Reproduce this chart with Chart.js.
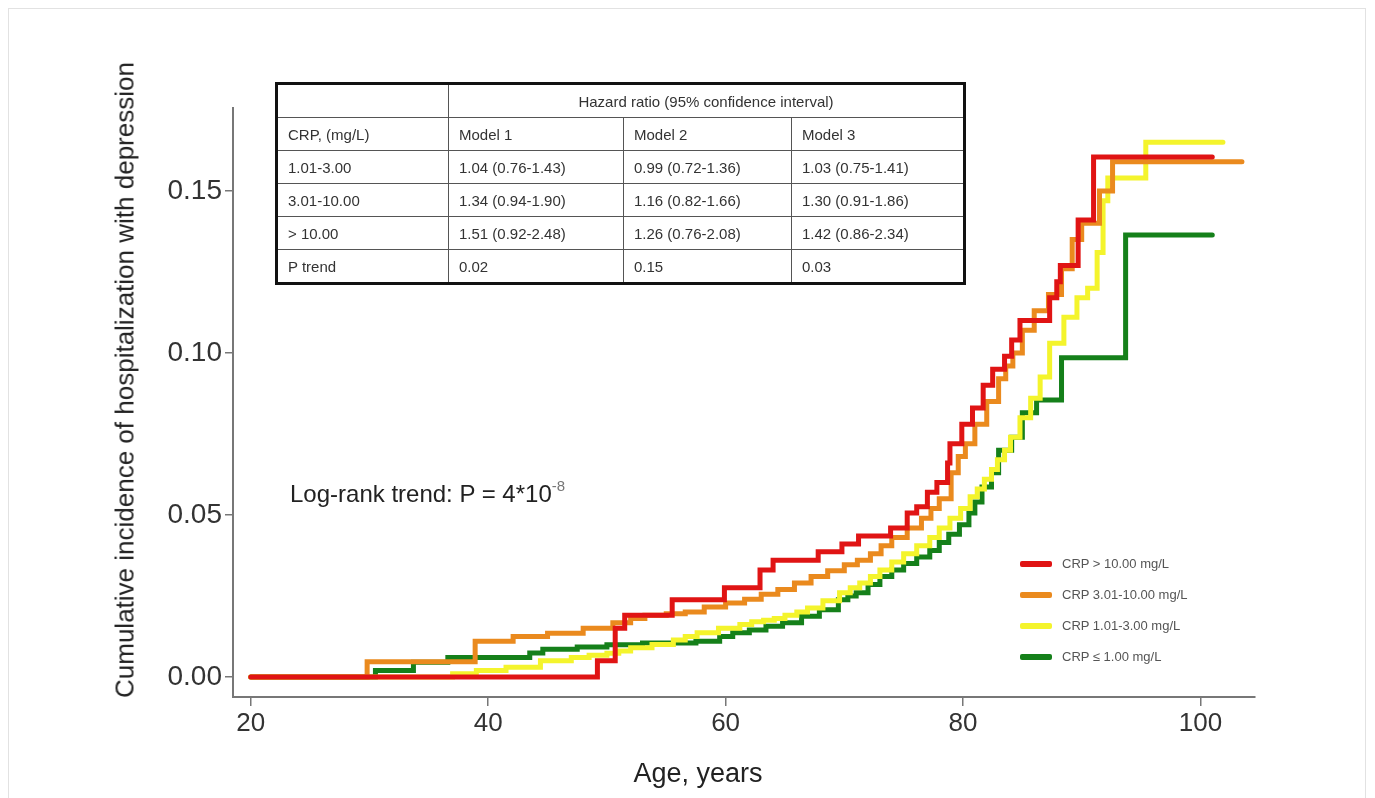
<!DOCTYPE html>
<html>
<head>
<meta charset="utf-8">
<script src="https://cdn.jsdelivr.net/npm/chart.js@4/dist/chart.umd.min.js"></script>
<style>
  body { margin: 0; background: #fff; font-family: "Liberation Sans", Arial, sans-serif; }
  #wrap { position: relative; width: 1375px; height: 798px; overflow: hidden; }
  #frame { position: absolute; left: 8px; top: 8px; width: 1358px; height: 820px; border: 1px solid #e2e2e2; box-sizing: border-box; }
  #chartBox { position: absolute; left: 0; top: 0; width: 1375px; height: 798px; }
  #hrTable { position: absolute; left: 275px; top: 82px; width: 688px; height: 201px; border-collapse: collapse; border: 3px solid #111; font-size: 15px; color: #333; table-layout: fixed; }
  #hrTable td { border: 1px solid #555; padding: 0 0 0 10px; height: 32px; white-space: nowrap; }
  #hrTable td.head { text-align: center; padding: 0; }
  #logrank { position: absolute; left: 290px; top: 479px; font-size: 24px; color: #222; }
  #logrank sup { font-size: 15px; color: #777; position: relative; top: -2px; }
  #legend { position: absolute; left: 1020px; top: 548px; font-size: 13px; color: #555; }
  .lg-row { height: 31px; display: flex; align-items: center; }
  .lg-swatch { width: 32px; height: 6px; margin-right: 10px; border-radius: 2px; }
  .axis-title { position: absolute; white-space: nowrap; color: #222; transform-origin: center; }
  #yTitle { left: 125px; top: 380px; font-size: 26px; transform: translate(-50%, -50%) rotate(-90deg); }
  #xTitle { left: 698px; top: 773px; font-size: 27px; transform: translate(-50%, -50%); }
</style>
</head>
<body>
<div id="wrap">
  <div id="frame"></div>
  <div id="chartBox"><canvas id="kmChart"></canvas></div>
  <table id="hrTable"></table>
  <div id="logrank">Log-rank trend: P = 4*10<sup>-8</sup></div>
  <div id="legend"></div>
  <div id="yTitle" class="axis-title">Cumulative incidence of hospitalization with depression</div>
  <div id="xTitle" class="axis-title">Age, years</div>
</div>
<script>
// series labels + colours (legend order = drawing priority, first on top)
const seriesLabels = ['CRP > 10.00 mg/L', 'CRP 3.01-10.00 mg/L', 'CRP 1.01-3.00 mg/L', 'CRP \u2264 1.00 mg/L'];
const seriesColors = ['#e01414', '#ea8a1e', '#f4f42c', '#15801a'];

// Kaplan-Meier style step points: age at event, cumulative incidence after it
const redAges = [20, 49.2, 50.7, 51.5, 55.5, 59.9, 62.9, 64.0, 67.8, 69.8, 71.2, 73.9, 75.3, 76.1, 77.0, 77.8, 78.7, 78.9, 79.9, 80.8, 81.7, 82.5, 83.5, 84.1, 84.8, 87.3, 87.9, 88.2, 89.7, 91.0, 101.0];
const redRisk = [0, 0.005, 0.015, 0.019, 0.0238, 0.0275, 0.033, 0.036, 0.0386, 0.041, 0.0435, 0.046, 0.0506, 0.0525, 0.057, 0.060, 0.066, 0.072, 0.078, 0.083, 0.090, 0.095, 0.099, 0.104, 0.110, 0.117, 0.122, 0.127, 0.141, 0.1605, 0.1605];

const orangeAges = [20, 29.8, 38.9, 42.1, 45.0, 48.0, 50.5, 52.0, 53.2, 55.0, 56.6, 58.2, 60.0, 61.6, 63.0, 64.4, 65.8, 67.2, 68.6, 70.0, 71.1, 72.2, 73.1, 74.0, 75.3, 76.5, 77.3, 78.0, 79.0, 79.6, 80.2, 81.0, 82.0, 83.0, 83.6, 84.2, 85.0, 86.0, 87.2, 88.3, 89.2, 90.0, 91.5, 92.6, 103.5];
const orangeRisk = [0, 0.0047, 0.011, 0.0125, 0.0135, 0.015, 0.0167, 0.018, 0.019, 0.0195, 0.020, 0.0216, 0.0228, 0.024, 0.0255, 0.027, 0.029, 0.031, 0.0328, 0.0346, 0.036, 0.038, 0.0405, 0.043, 0.046, 0.049, 0.052, 0.055, 0.063, 0.068, 0.072, 0.078, 0.085, 0.092, 0.096, 0.100, 0.107, 0.113, 0.118, 0.126, 0.135, 0.140, 0.150, 0.159, 0.159];

const yellowAges = [20, 37.0, 39.0, 41.5, 44.4, 47.0, 48.5, 50.0, 51.0, 52.0, 53.8, 55.6, 56.6, 57.6, 59.4, 61.2, 62.2, 63.2, 64.1, 65.0, 66.0, 66.9, 68.2, 69.6, 70.5, 71.3, 72.2, 73.0, 74.0, 75.0, 76.1, 77.2, 78.0, 78.9, 79.8, 80.6, 81.2, 81.8, 82.4, 82.9, 83.5, 84.0, 84.8, 85.7, 86.5, 87.3, 88.5, 89.6, 90.5, 91.3, 91.8, 92.2, 95.4, 101.9];
const yellowRisk = [0, 0.001, 0.002, 0.003, 0.005, 0.006, 0.0067, 0.0073, 0.008, 0.009, 0.010, 0.0114, 0.0125, 0.0136, 0.015, 0.0162, 0.017, 0.0175, 0.018, 0.019, 0.020, 0.0213, 0.0235, 0.026, 0.0275, 0.029, 0.031, 0.033, 0.0355, 0.038, 0.0405, 0.043, 0.046, 0.049, 0.052, 0.0556, 0.058, 0.061, 0.064, 0.067, 0.070, 0.074, 0.080, 0.086, 0.0926, 0.103, 0.111, 0.117, 0.120, 0.131, 0.147, 0.154, 0.165, 0.165];

const greenAges = [20, 30.5, 33.7, 36.6, 43.5, 44.6, 47.5, 50.0, 53.0, 57.5, 59.5, 60.6, 62.0, 63.4, 64.8, 66.4, 67.9, 69.5, 70.3, 71.0, 72.0, 73.0, 74.0, 75.0, 76.1, 77.2, 78.0, 78.8, 79.7, 80.5, 81.0, 81.6, 82.4, 83.0, 84.1, 85.0, 86.2, 88.3, 93.7, 101.0];
const greenRisk = [0, 0.002, 0.0045, 0.006, 0.0074, 0.0085, 0.0092, 0.0099, 0.0105, 0.011, 0.0125, 0.0136, 0.0145, 0.0156, 0.0167, 0.0187, 0.0207, 0.0238, 0.025, 0.026, 0.0285, 0.031, 0.033, 0.035, 0.037, 0.039, 0.0415, 0.044, 0.047, 0.0506, 0.054, 0.0586, 0.063, 0.070, 0.074, 0.0815, 0.0855, 0.0985, 0.1364, 0.1364];

const xTicks = [20, 40, 60, 80, 100];
const yTicks = [0, 0.05, 0.10, 0.15];

// hazard ratio table
const tableHeader = 'Hazard ratio (95% confidence interval)';
const tableCols = ['CRP, (mg/L)', 'Model 1', 'Model 2', 'Model 3'];
const tableRows = [
    ['1.01-3.00', '1.04 (0.76-1.43)', '0.99 (0.72-1.36)', '1.03 (0.75-1.41)'],
    ['3.01-10.00', '1.34 (0.94-1.90)', '1.16 (0.82-1.66)', '1.30 (0.91-1.86)'],
    ['> 10.00', '1.51 (0.92-2.48)', '1.26 (0.76-2.08)', '1.42 (0.86-2.34)'],
    ['P trend', '0.02', '0.15', '0.03']
];

function toPoints(ages, risk) {
    return ages.map((a, i) => ({ x: a, y: risk[i] }));
}

const allSeries = [
    toPoints(redAges, redRisk),
    toPoints(orangeAges, orangeRisk),
    toPoints(yellowAges, yellowRisk),
    toPoints(greenAges, greenRisk)
];

// table
const tbl = document.getElementById('hrTable');
const widths = [172, 175, 168, 173];
let html = '<colgroup>' + widths.map(w => '<col style="width:' + w + 'px">').join('') + '</colgroup>';
html += '<tr><td></td><td class="head" colspan="3">' + tableHeader + '</td></tr>';
html += '<tr>' + tableCols.map(c => '<td>' + c + '</td>').join('') + '</tr>';
tableRows.forEach(r => {
    html += '<tr>' + r.map(c => '<td>' + c.replace('>', '&gt;') + '</td>').join('') + '</tr>';
});
tbl.innerHTML = html;

// legend
const legend = document.getElementById('legend');
seriesLabels.forEach((lbl, i) => {
    const row = document.createElement('div');
    row.className = 'lg-row';
    row.innerHTML = '<span class="lg-swatch" style="background:' + seriesColors[i] + '"></span><span></span>';
    row.lastChild.textContent = lbl;
    legend.appendChild(row);
});

const ctx = document.getElementById('kmChart').getContext('2d');

var kmChart = new Chart(ctx, {
    type: 'line',
    data: {
        datasets: allSeries.map((pts, i) => ({
            label: seriesLabels[i],
            data: pts,
            borderColor: seriesColors[i],
            backgroundColor: seriesColors[i],
            borderWidth: 5,
            stepped: true,
            fill: false,
            pointRadius: 0,
            borderJoinStyle: 'miter',
            borderCapStyle: 'round'
        }))
    },
    options: {
        responsive: true,
        maintainAspectRatio: false,
        animation: false,
        layout: {
            padding: { left: 108, top: 108, right: 120, bottom: 8 }
        },
        plugins: {
            legend: { display: false },
            tooltip: { enabled: false }
        },
        scales: {
            x: {
                type: 'linear',
                min: 18.5,
                max: 104.6,
                afterBuildTicks: axis => { axis.ticks = xTicks.map(v => ({ value: v })); },
                afterFit: axis => { axis.height = 93; },
                ticks: {
                    font: { family: 'Liberation Sans', size: 26 },
                    color: '#333',
                    padding: 2,
                    autoSkip: false,
                    maxRotation: 0
                },
                grid: { drawOnChartArea: false, tickLength: 9, color: '#777', lineWidth: 1.5 },
                border: { color: '#777', width: 2 }
            },
            y: {
                min: -0.0062,
                max: 0.1756,
                afterBuildTicks: axis => { axis.ticks = yTicks.map(v => ({ value: v })); },
                afterFit: axis => { axis.width = 125; },
                ticks: {
                    font: { family: 'Liberation Sans', size: 28 },
                    color: '#333',
                    padding: 3,
                    callback: v => v.toFixed(2)
                },
                grid: { drawOnChartArea: false, tickLength: 8, color: '#777', lineWidth: 1.5 },
                border: { color: '#777', width: 2 }
            }
        }
    }
});
</script>
</body>
</html>
